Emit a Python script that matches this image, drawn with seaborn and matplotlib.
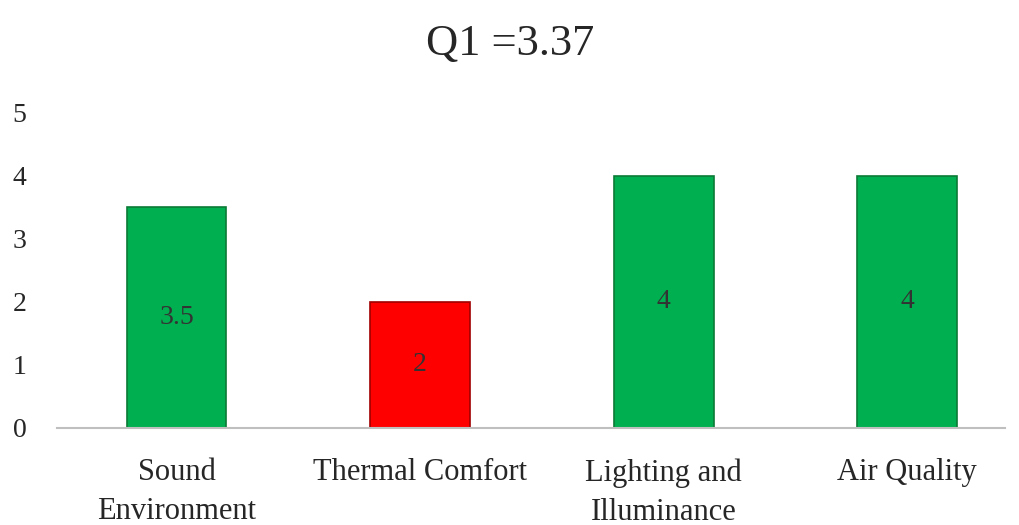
import matplotlib
matplotlib.use("Agg")
import matplotlib.pyplot as plt
import seaborn as sns
import pandas as pd

categories = ["Sound\nEnvironment", "Thermal Comfort", "Lighting and\nIlluminance", "Air Quality"]
scores = [3.5, 2, 4, 4]
value_labels = ["3.5", "2", "4", "4"]
bar_colors = ["#00B050", "#FF0000", "#00B050", "#00B050"]
edge_colors = ["#0B7A35", "#A00000", "#0B7A35", "#0B7A35"]

sns.set_style("white")
plt.rcParams["font.family"] = ["Liberation Serif", "DejaVu Serif"]

df = pd.DataFrame({"category": categories, "score": scores})

fig = plt.figure(figsize=(10.2, 5.25), dpi=100)
ax = fig.add_axes([0.056, 0.185, 0.929, 0.6])

sns.barplot(data=df, x="category", y="score", hue="category", palette=bar_colors,
            legend=False, width=0.41, ax=ax, saturation=1)

for patch, ec in zip(ax.patches, edge_colors):
    patch.set_edgecolor(ec)
    patch.set_linewidth(1.2)

for i, (v, lab) in enumerate(zip(scores, value_labels)):
    ax.text(i, v / 2, lab, ha="center", va="center", fontsize=20, color="#333333")

ax.set_ylim(0, 5)
ax.set_xlim(-0.49, 3.4)
ax.set_yticks(range(0, 6))
ax.tick_params(axis="y", labelsize=20, length=0, pad=22)
ax.tick_params(axis="x", labelsize=22, length=0, pad=22)
for t in ax.get_xticklabels():
    t.set_linespacing(1.45)
ax.set_xlabel("")
ax.set_ylabel("")
for s in ["top", "right", "left"]:
    ax.spines[s].set_visible(False)
ax.spines["bottom"].set_color("#BFBFBF")
ax.spines["bottom"].set_linewidth(1.5)

fig.suptitle("Q1 =3.37", fontsize=32, y=0.955)

fig.savefig("out.png", dpi=100)
